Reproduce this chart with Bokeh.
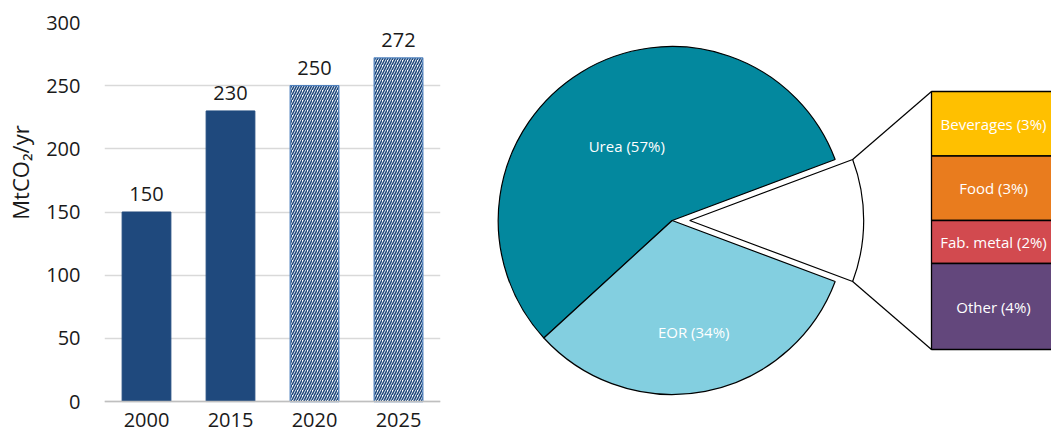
import numpy as np
from bokeh.plotting import figure
from bokeh.models import FactorRange, Range1d, ColumnDataSource, Span, FixedTicker
from bokeh.layouts import row
from bokeh.embed import file_html
from bokeh.resources import INLINE
from bokeh.core.properties import value

FONT = "Open Sans"

# ---------------- data ----------------
years = ["2000", "2015", "2020", "2025"]
emissions = [150, 230, 250, 272]
is_projection = [False, False, True, True]
y_ticks = [0, 50, 100, 150, 200, 250, 300]
y_label = "MtCO\u2082/yr"

pie_labels = ["Urea (57%)", "EOR (34%)", ""]
pie_shares = [56.1, 32.5, 11.4]
pie_colors = ["#03889E", "#83CFE0", "#FFFFFF"]

other_labels = ["Beverages (3%)", "Food (3%)", "Fab. metal (2%)", "Other (4%)"]
other_values = [3, 3, 2, 4]
other_colors = ["#FFC000", "#E97C1E", "#D24A4F", "#63477C"]

TEXT = "#1A1A1A"
H = 432
TOP = 22          # common top border (frames of a row are aligned)

# ---------------- y-axis title strip ----------------
W0 = 42
p0 = figure(width=W0, height=H, x_range=Range1d(0, W0), y_range=Range1d(0, H - TOP),
            output_backend="svg", toolbar_location=None, min_border=0,
            min_border_top=TOP, title=None,
            x_axis_type=None, y_axis_type=None, outline_line_color=None)
p0.text(x=[19], y=[H - 172], text=[y_label], angle=np.pi / 2,
        text_align="center", text_baseline="middle",
        text_font=value(FONT), text_font_size="22px", text_color=TEXT)

# ---------------- bar chart ----------------
p1 = figure(x_range=FactorRange(factors=years), y_range=Range1d(-24.5, 300),
            width=463 - W0, height=H, output_backend="svg", toolbar_location=None,
            min_border_left=104 - W0, min_border_right=23, min_border_top=TOP,
            min_border_bottom=0, outline_line_color=None, title=None)

solid = ColumnDataSource(dict(
    x=[y for y, pj in zip(years, is_projection) if not pj],
    top=[v for v, pj in zip(emissions, is_projection) if not pj]))
proj = ColumnDataSource(dict(
    x=[y for y, pj in zip(years, is_projection) if pj],
    top=[v for v, pj in zip(emissions, is_projection) if pj]))

p1.vbar(x="x", top="top", width=0.58, source=solid,
        fill_color="#1F497D", line_color="#1F497D", line_width=1)
p1.vbar(x="x", top="top", width=0.58, source=proj,
        fill_color="white", line_color="#4F81BD", line_width=1.2,
        hatch_pattern="/", hatch_color="#1F497D", hatch_scale=5, hatch_weight=1.6)

# value labels above bars
p1.text(x=years, y=emissions, text=[str(v) for v in emissions],
        text_align="center", text_baseline="alphabetic", y_offset=-18,
        text_font=value(FONT), text_font_size="20px", text_color=TEXT)
# category labels below baseline
p1.text(x=years, y=[0] * len(years), text=years,
        text_align="center", text_baseline="alphabetic", y_offset=18,
        text_font=value(FONT), text_font_size="20px", text_color=TEXT)

p1.xaxis.visible = False
p1.xgrid.visible = False
p1.yaxis.ticker = FixedTicker(ticks=y_ticks)
p1.ygrid.ticker = FixedTicker(ticks=y_ticks)
p1.ygrid.grid_line_color = "#D9D9D9"
p1.ygrid.grid_line_width = 1.3
p1.yaxis.axis_line_color = None
p1.yaxis.major_tick_line_color = None
p1.yaxis.minor_tick_line_color = None
p1.yaxis.major_tick_out = 0
p1.yaxis.major_tick_in = 0
p1.yaxis.major_label_standoff = 24
p1.yaxis.major_label_text_font = FONT
p1.yaxis.major_label_text_font_size = "20px"
p1.yaxis.major_label_text_color = TEXT

p1.add_layout(Span(location=0, dimension="width", line_color="#BFBFBF", line_width=1.6))

# ---------------- pie of pie ----------------
W2 = 588
p2 = figure(width=W2, height=H, x_range=Range1d(0, W2), y_range=Range1d(0, H - TOP),
            output_backend="svg", toolbar_location=None, min_border=0,
            min_border_top=TOP, title=None,
            x_axis_type=None, y_axis_type=None, outline_line_color=None)

cx, cy, R, explode = 208.7, 212.0, 174.0, 17.5
fr = np.array(pie_shares, dtype=float) / sum(pie_shares)
half = fr[2] * np.pi
starts = [half, half + fr[0] * 2 * np.pi, -half]
ends = [half + fr[0] * 2 * np.pi, 2 * np.pi - half, half]
xs = [cx, cx, cx + explode]
p2.wedge(x=xs, y=[cy] * 3, radius=R, start_angle=starts, end_angle=ends,
         fill_color=pie_colors, line_color="black", line_width=1.2)

mids = [(s + e) / 2 for s, e in zip(starts, ends)]
lab_r = [0.5 * R, 0.65 * R]
p2.text(x=[cx + lab_r[i] * np.cos(mids[i]) for i in range(2)],
        y=[cy + lab_r[i] * np.sin(mids[i]) for i in range(2)],
        text=pie_labels[:2], text_align="center", text_baseline="middle",
        text_font=value(FONT), text_font_size="15px", text_color="white")

# stacked breakdown bar
stack_left, stack_right, stack_h = 468.0, 592.0, 258.0
vals = np.array(other_values, dtype=float)
seg = vals / vals.sum() * stack_h
tops = cy + stack_h / 2 - np.concatenate([[0], np.cumsum(seg)[:-1]])
bottoms = tops - seg
p2.quad(left=stack_left, right=stack_right, top=tops, bottom=bottoms,
        fill_color=other_colors, line_color="black", line_width=1.3)
text_x = (stack_left + stack_right) / 2
p2.text(x=[text_x] * len(other_labels), y=list((tops + bottoms) / 2), text=other_labels,
        text_align="center", text_baseline="middle",
        text_font=value(FONT), text_font_size="15px", text_color="white")

# connector lines
ex_cx = cx + explode
p2.segment(x0=[ex_cx + R * np.cos(half), ex_cx + R * np.cos(half)],
           y0=[cy + R * np.sin(half), cy - R * np.sin(half)],
           x1=[stack_left, stack_left], y1=[tops[0], bottoms[-1]],
           line_color="black", line_width=1.2)

layout = row(p0, p1, p2)
open("out.html", "w").write(file_html(layout, INLINE))
